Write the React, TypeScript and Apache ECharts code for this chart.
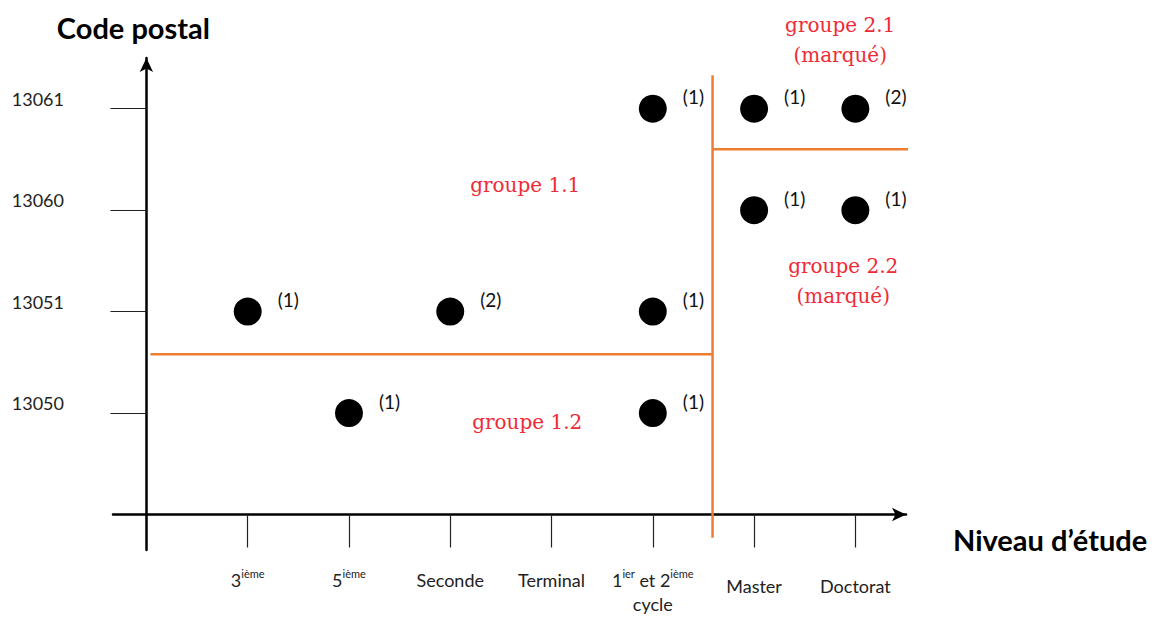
import React, { useEffect, useRef } from "react";
import * as echarts from "echarts";

// Categories (x) and postal codes (y), placed at positions 1..n on value axes
const levels = ["3ième", "5ième", "Seconde", "Terminal", "1ier et 2ième cycle", "Master", "Doctorat"];
const levelPositions = [1, 2, 3, 4, 5, 6, 7];
const xTickLabels = [
  "3{s|ième}",
  "5{s|ième}",
  "Seconde",
  "Terminal",
  "1{s|ier} et 2{s|ième}\ncycle",
  "{low|Master}",
  "{low|Doctorat}",
];
const postalCodes = ["13050", "13051", "13060", "13061"];
const codePositions = [1, 2, 3, 4];

// Observations: level, postal code, count
const pointLevels = ["3ième", "5ième", "Seconde", "1ier et 2ième cycle", "1ier et 2ième cycle", "1ier et 2ième cycle", "Master", "Master", "Doctorat", "Doctorat"];
const pointCodes = ["13051", "13050", "13051", "13061", "13051", "13050", "13061", "13060", "13061", "13060"];
const pointCounts = [1, 1, 2, 1, 1, 1, 1, 1, 2, 1];

// Group boundaries (axis units)
const boundaryLow = [[0.04, 1.58], [5.59, 1.58]];
const boundaryVertical = [[5.59, -0.23], [5.59, 4.33]];
const boundaryHigh = [[5.59, 3.6], [9.48, 3.6]];

// Group labels (axis units)
const groupNames = ["groupe 1.1", "groupe 1.2", "groupe 2.1\n(marqué)", "groupe 2.2\n(marqué)"];
const groupX = [3.74, 3.76, 6.85, 6.88];
const groupY = [3.25, 0.91, 4.68, 2.3];

const ORANGE = "#ED7D31";
const RED = "#EE2B36";

export default function App() {
  const ref = useRef<HTMLDivElement>(null);

  useEffect(() => {
    if (!ref.current) return;
    const chart = echarts.init(ref.current, undefined, { renderer: "svg" });

    const pointData = pointLevels.map((lv, i) => [
      levelPositions[levels.indexOf(lv)],
      codePositions[postalCodes.indexOf(pointCodes[i])],
      pointCounts[i],
    ]);

    const boundaryStyle = { color: ORANGE, width: 2.5, opacity: 1 };

    const option: any = {
      animation: false,
      textStyle: { fontFamily: "Lato" },
      grid: { left: 113, right: 251, top: 58, bottom: 67, outerBoundsMode: "none", containLabel: false },
      xAxis: {
        type: "value",
        min: -0.33,
        max: 7.5,
        name: "Niveau d’étude",
        nameLocation: "end",
        nameGap: 47,
        nameTextStyle: {
          fontSize: 29,
          fontWeight: "bold",
          color: "#000",
          fontFamily: "Lato",
          verticalAlign: "top",
          lineHeight: 34,
          padding: [8, 0, 0, 0],
        },
        axisLine: {
          onZero: true,
          symbol: ["none", "arrow"],
          symbolSize: [10, 14],
          lineStyle: { color: "#000", width: 2.5 },
        },
        axisTick: {
          show: true,
          customValues: levelPositions,
          length: 33,
          lineStyle: { color: "#222", width: 1.2 },
        },
        axisLabel: {
          customValues: levelPositions,
          formatter: (v: number) => xTickLabels[Math.round(v) - 1] ?? "",
          margin: 18,
          verticalAlign: "top",
          fontSize: 18,
          lineHeight: 24,
          color: "#222",
          rich: {
            s: { fontSize: 11, lineHeight: 16, verticalAlign: "top", color: "#222" },
            low: { fontSize: 18, lineHeight: 24, padding: [12, 0, 0, 0], color: "#222" },
          },
        },
        splitLine: { show: false },
      },
      yAxis: {
        type: "value",
        min: -0.35,
        max: 4.5,
        name: "Code postal",
        nameLocation: "end",
        nameGap: 16,
        nameTextStyle: {
          fontSize: 29,
          fontWeight: "bold",
          color: "#000",
          fontFamily: "Lato",
          padding: [0, 26, 0, 0],
        },
        axisLine: {
          onZero: true,
          symbol: ["none", "arrow"],
          symbolSize: [10, 14],
          lineStyle: { color: "#000", width: 2.5 },
        },
        axisTick: {
          show: true,
          customValues: codePositions,
          length: 36,
          lineStyle: { color: "#222", width: 1.2 },
        },
        axisLabel: {
          customValues: codePositions,
          formatter: (v: number) => postalCodes[Math.round(v) - 1] ?? "",
          align: "right",
          margin: 49,
          verticalAlign: "bottom",
          fontSize: 18,
          color: "#222",
          padding: [0, 0, 1, 0],
        },
        splitLine: { show: false },
      },
      series: [
        {
          type: "line",
          data: boundaryLow,
          symbol: "none",
          clip: false,
          lineStyle: boundaryStyle,
          z: 1,
        },
        {
          type: "line",
          data: boundaryVertical,
          symbol: "none",
          clip: false,
          lineStyle: boundaryStyle,
          z: 1,
        },
        {
          type: "line",
          data: boundaryHigh,
          symbol: "none",
          clip: false,
          lineStyle: boundaryStyle,
          z: 1,
        },
        {
          type: "scatter",
          data: pointData,
          symbol: "circle",
          symbolSize: 28,
          itemStyle: { color: "#000", opacity: 1 },
          clip: false,
          label: {
            show: true,
            position: "right",
            distance: 16,
            offset: [0, -12],
            formatter: (p: any) => `(${p.value[2]})`,
            fontSize: 19,
            color: "#111",
            fontFamily: "Lato",
          },
          z: 3,
        },
        {
          type: "scatter",
          data: groupNames.map((n, i) => ({ name: n, value: [groupX[i], groupY[i]] })),
          symbol: "circle",
          symbolSize: 1,
          itemStyle: { color: "#fff", opacity: 1 },
          clip: false,
          silent: true,
          label: {
            show: true,
            position: "inside",
            formatter: (p: any) => p.name,
            fontFamily: "DejaVu Serif",
            fontSize: 20,
            lineHeight: 30,
            color: RED,
            align: "center",
            verticalAlign: "middle",
          },
          z: 2,
        },
      ],
    };

    chart.setOption(option);
    return () => chart.dispose();
  }, []);

  return (
    <div
      ref={ref}
      style={{ position: "fixed", left: 0, top: 0, width: 1157, height: 617, background: "#fff" }}
    />
  );
}
